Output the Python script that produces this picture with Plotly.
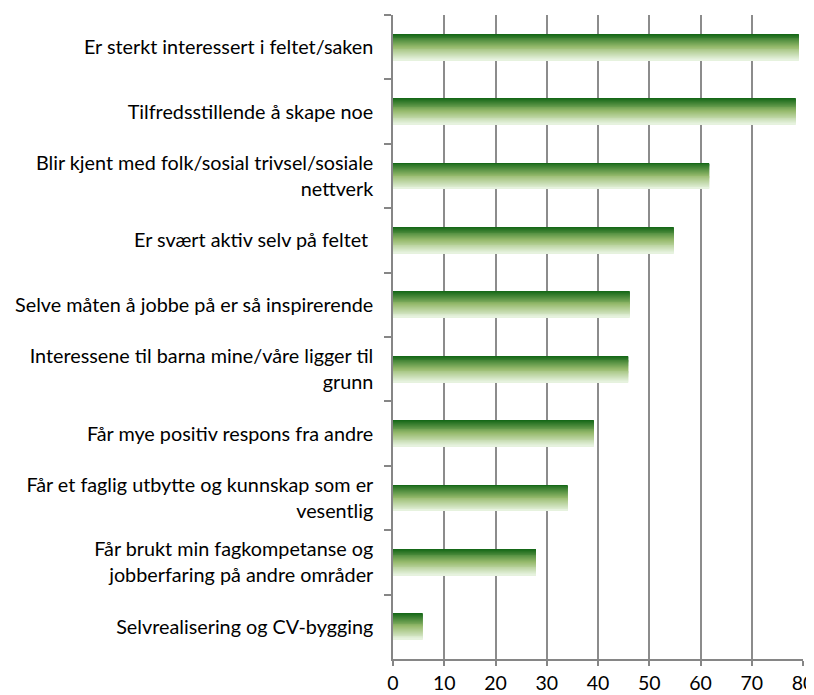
import plotly.graph_objects as go

categories = [
    "Er sterkt interessert i feltet/saken",
    "Tilfredsstillende å skape noe",
    "Blir kjent med folk/sosial trivsel/sosiale<br>nettverk",
    "Er svært aktiv selv på feltet ",
    "Selve måten å jobbe på er så inspirerende",
    "Interessene til barna mine/våre ligger til<br>grunn",
    "Får mye positiv respons fra andre",
    "Får et faglig utbytte og kunnskap som er<br>vesentlig",
    "Får brukt min fagkompetanse og<br>jobberfaring på andre områder",
    "Selvrealisering og CV-bygging",
]
values = [79.2, 78.6, 61.7, 54.8, 46.2, 45.9, 39.2, 34.1, 27.9, 5.8]
x_ticks = [0, 10, 20, 30, 40, 50, 60, 70, 80]

# gradient styling (top dark green -> bottom pale green)
stops = [(0.0, (22, 104, 24)), (0.5, (150, 186, 108)), (1.0, (230, 242, 222))]


def grad(t):
    for (t0, c0), (t1, c1) in zip(stops[:-1], stops[1:]):
        if t <= t1:
            f = (t - t0) / (t1 - t0)
            return "rgb(%d,%d,%d)" % tuple(round(a + (b - a) * f) for a, b in zip(c0, c1))
    return "rgb(%d,%d,%d)" % stops[-1][1]


bar_w = 0.4
n_slices = 28
step = bar_w / n_slices

fig = go.Figure()
for i in range(n_slices):
    fig.add_trace(go.Bar(
        x=values,
        y=categories,
        orientation="h",
        width=step * 1.6 if i < n_slices - 1 else step,
        offset=-bar_w / 2 + i * step,
        marker=dict(color=grad(i / (n_slices - 1)), line=dict(width=0)),
        hoverinfo="skip",
        showlegend=False,
    ))

font_family = "Lato, 'Open Sans', sans-serif"
fig.update_layout(
    width=806,
    height=687,
    margin=dict(l=385, r=11, t=7, b=36, autoexpand=False),
    paper_bgcolor="white",
    plot_bgcolor="white",
    barmode="overlay",
    font=dict(family=font_family, size=19.8, color="#000000"),
    xaxis=dict(
        range=[0, 80],
        tickvals=x_ticks,
        automargin=False,
        ticklabeloverflow="allow",
        showgrid=True,
        gridcolor="#8c8c8c",
        gridwidth=1.5,
        zeroline=False,
        showline=True,
        linecolor="#868686",
        linewidth=1.5,
        ticks="outside",
        ticklen=5,
        tickcolor="#868686",
        tickwidth=1.5,
        ticklabelstandoff=1,
        tickfont=dict(size=19.5),
        fixedrange=True,
    ),
    yaxis=dict(
        type="category",
        autorange="reversed",
        automargin=False,
        showgrid=False,
        showline=True,
        linecolor="#868686",
        linewidth=1.5,
        ticks="outside",
        tickson="boundaries",
        ticklen=7,
        tickcolor="#868686",
        tickwidth=1.5,
        ticklabelstandoff=14,
        tickfont=dict(size=19.8),
        fixedrange=True,
    ),
)

fig.write_html("out.html")
